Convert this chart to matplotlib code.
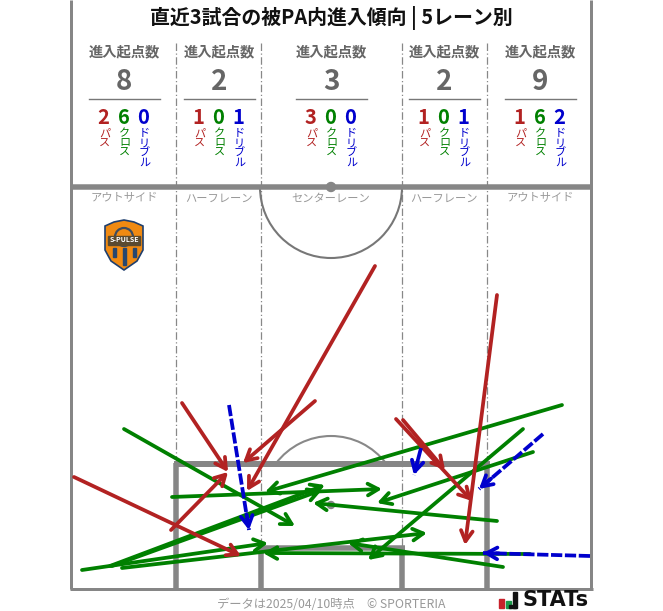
import matplotlib
matplotlib.use("Agg")
import matplotlib.pyplot as plt
from matplotlib.patches import Arc, Circle, Polygon, Rectangle

plt.rcParams["font.family"] = ["Noto Sans CJK JP", "DejaVu Sans"]

title = "直近3試合の被PA内進入傾向 | 5レーン別"
lane_names = ["アウトサイド", "ハーフレーン", "センターレーン", "ハーフレーン", "アウトサイド"]
lane_centers = [124, 219, 331, 444, 540]
lane_edges = [176, 261, 402, 487]
totals = [8, 2, 3, 2, 9]
passes = [2, 1, 3, 1, 1]
crosses = [6, 0, 0, 0, 6]
dribbles = [0, 1, 0, 1, 2]

# arrows in picture pixels: x0, y0, x1, y1
pass_arrows = [
    (375, 266, 247, 491), (315, 401, 243, 463), (182, 403, 228, 472),
    (171, 530, 228, 472), (74, 477, 241, 556), (396, 419, 472, 501),
    (403, 420, 445, 470), (497, 295, 465, 545),
]
cross_arrows = [
    (124, 429, 295, 526), (172, 497, 382, 489), (562, 405, 265, 492),
    (110, 566, 325, 485), (112, 566, 322, 490), (82, 570, 268, 543),
    (122, 568, 427, 533), (497, 521, 313, 503), (533, 452, 377, 503),
    (523, 429, 368, 560), (503, 567, 348, 543), (530, 554, 263, 553),
]
dribble_arrows = [
    (229, 405, 249, 530), (421, 448, 414, 475), (543, 434, 479, 489),
    (590, 556, 483, 553),
]

RED = "#b22222"
GREEN = "#008000"
BLUE = "#0000cd"
LINE = "#868686"
TXT = "#666666"

fig = plt.figure(figsize=(6.63, 6.11), dpi=100)
ax = fig.add_axes([0, 0, 1, 1])
ax.set_xlim(0, 663)
ax.set_ylim(611, 0)
ax.axis("off")


def line(xs, ys, lw=3.0, color=LINE, **kw):
    ax.plot(xs, ys, color=color, lw=lw * 0.72, solid_capstyle="butt", **kw)


# pitch
line([71, 71], [0, 589])
line([591, 591], [0, 589])
line([69.5, 592.5], [589, 589])
line([71, 591], [187, 187], lw=5.5)
for x in lane_edges:
    ax.plot([x, x], [43, 589], color="#888888", lw=0.9, ls=(0, (6, 2, 1, 2)), zorder=1)
    line([x, x], [463, 589] if x in (176, 487) else [548, 589], lw=5.5)
line([173.5, 489.5], [463.5, 463.5], lw=6)
line([258.5, 404.5], [548, 548], lw=5.5)
ax.add_patch(Arc((331, 187), 142, 142, theta1=0, theta2=180, color="#777777", lw=1.5))
ax.add_patch(Arc((331, 505), 138, 138, theta1=217, theta2=323, color="#888888", lw=1.5))
ax.add_patch(Circle((331, 187), 4.5, color=LINE, zorder=3))
ax.add_patch(Circle((331, 505), 3.5, color=LINE, zorder=3))

# header
ax.text(331, 18.5, title, fontsize=14.35, fontweight="bold", ha="center", va="center", color="#111111")
for i, cx in enumerate(lane_centers):
    ax.text(cx, 52.5, "進入起点数", fontsize=10.3, fontweight="bold", color=TXT, ha="center", va="center")
    ax.text(cx, 82, str(totals[i]), fontsize=20, fontweight="bold", color=TXT, ha="center", va="center")
    ax.plot([cx - 35.5, cx + 35.5], [98.5, 98.5], color="#777777", lw=1.0)
    ax.text(cx, 198.5, lane_names[i], fontsize=8.1, color="#999999", ha="center", va="center")
    groups = [(passes[i], "パス", RED), (crosses[i], "クロス", GREEN), (dribbles[i], "ドリブル", BLUE)]
    for k, (n, label, col) in enumerate(groups):
        x = cx + (k - 1) * 20
        ax.text(x - 0.5, 117, str(n), fontsize=14.5, fontweight="bold", color=col, ha="center", va="center")
        ax.text(x + 0.5, 128.5, "\n".join(label), fontsize=8, color=col, ha="center", va="top", linespacing=0.98)


def draw_arrows(arrows, col, lw, z, dashed=False):
    for x0, y0, x1, y1 in arrows:
        if dashed:
            # dashed shaft, solid short head
            ax.plot([x0, x1], [y0, y1], color=col, lw=lw, ls=(0, (3.0, 0.7)),
                    dash_capstyle="butt", zorder=z)
            frac = 16 / ((x0 - x1) ** 2 + (y0 - y1) ** 2) ** 0.5
            x0, y0 = x1 + (x0 - x1) * frac, y1 + (y0 - y1) * frac
        ax.annotate("", xy=(x1, y1), xytext=(x0, y0), zorder=z,
                    arrowprops=dict(arrowstyle="->,head_length=0.75,head_width=0.42", color=col,
                                    lw=lw, shrinkA=0, shrinkB=0))


draw_arrows(cross_arrows, GREEN, 2.7, 4)
draw_arrows(pass_arrows, RED, 2.7, 5)
draw_arrows(dribble_arrows, BLUE, 2.7, 6, dashed=True)

# club badge
ax.add_patch(Polygon([(105, 226), (114, 222), (124, 220), (134, 222), (143, 226), (143, 250),
                      (137, 261), (124, 270), (111, 261), (105, 250)],
                     closed=True, fc="#f08a12", ec="#1f3f6e", lw=1.2, zorder=3))
ax.add_patch(Circle((124, 237), 9, fc="none", ec="#3d4c60", lw=1.6, zorder=3.5))
ax.add_patch(Rectangle((108, 235.5), 32, 9, color="#5a4a30", zorder=3.6))
for x in (114, 124, 134):
    ax.add_patch(Rectangle((x - 1.5, 248), 3, 17 if x == 124 else 9, color="#27476f", zorder=3.5))
ax.text(124, 240, "S-PULSE", fontsize=5, fontweight="bold", color="white", ha="center", va="center", zorder=4)

# footer
ax.text(331, 604, "データは2025/04/10時点　© SPORTERIA", fontsize=8.85, color="#999999", ha="center", va="center")
ax.add_patch(Rectangle((499, 599), 5, 9, color="#c8212b"))
ax.add_patch(Rectangle((506, 601), 5, 7, color="#1b9a4b"))
ax.add_patch(Rectangle((513, 592), 3.5, 16, color="#111111"))
ax.add_patch(Rectangle((509, 605), 7, 3, color="#111111"))
ax.text(522, 600.5, "STATs", fontsize=15, fontweight="bold", color="#111111", ha="left", va="center",
        family="DejaVu Sans")

fig.savefig("out.png", dpi=100)
